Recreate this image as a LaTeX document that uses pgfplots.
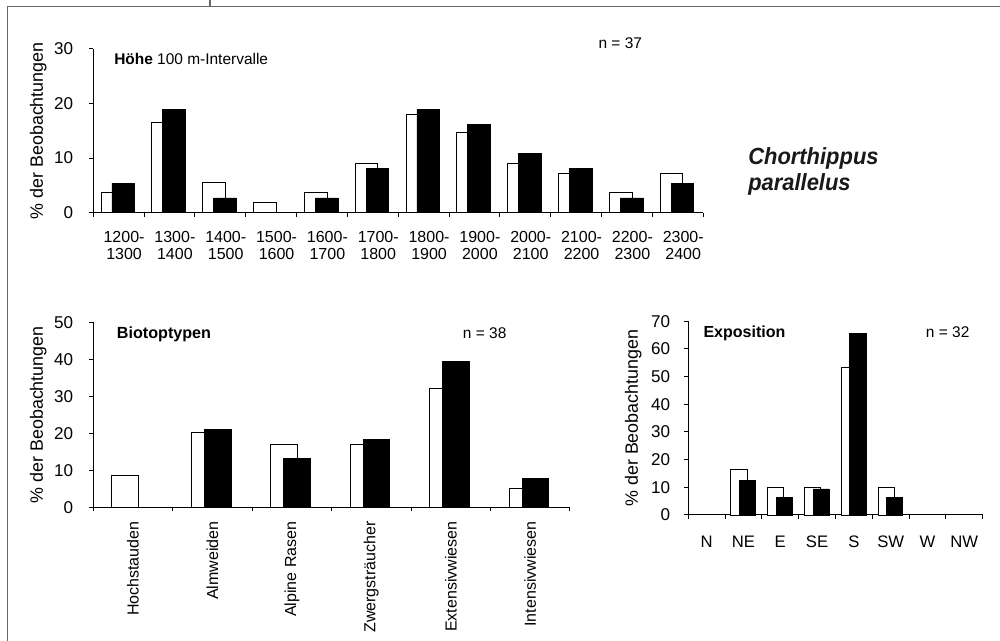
\documentclass[border=0pt]{standalone}
\usepackage{fontspec}
\setmainfont{Liberation Sans}
\usepackage{graphicx}
\usepackage{pgfplots}
\pgfplotsset{compat=1.18}
\definecolor{framegray}{RGB}{105,105,105}
\pgfplotsset{
  chartbase/.style={
    scale only axis,
    axis x line*=bottom, axis y line*=left,
    axis line style={-, line width=0.75pt, black},
    tick align=outside,
    major tick length=3pt, minor tick length=3pt,
    tick style={black, line width=0.75pt},
    major x tick style={draw=none},
    ymin=0, enlargelimits=false, clip=false,
    /pgf/number format/assume math mode=true,
    yticklabel style={anchor=east, inner sep=0pt, font=\fontsize{12.8}{14}\selectfont},
    yticklabel shift=12pt,
    every axis y label/.style={rotate=90, anchor=center, font=\fontsize{13.4}{15}\selectfont},
    ylabel={\% der Beobachtungen},
  },
  wbar/.style={ybar, fill=white, draw=black, line width=0.6pt},
  bbar/.style={ybar, fill=black, draw=black, line width=0.6pt},
}
\begin{document}
\begin{tikzpicture}[x=0.75pt,y=0.75pt]
\path[use as bounding box] (0,0) rectangle (1000,641);
% frame
\draw[framegray, line width=1pt] (7.7,0) -- (7.7,634.7) -- (1000,634.7);
\draw[framegray, line width=1pt] (210,634.7) -- (210,641);

% ---------- Hoehe ----------
\begin{axis}[chartbase,
  at={(69.975pt,321.225pt)}, anchor=south west,
  width=457.5pt, height=122.8pt,
  xmin=-0.5, xmax=11.5, ymax=30,
  ytick={0,10,20,30},
  xtick={0,...,11},
  minor xtick={-0.5,0.5,...,11.5},
  xticklabels={{1200-\\1300},{1300-\\1400},{1400-\\1500},{1500-\\1600},{1600-\\1700},{1700-\\1800},{1800-\\1900},{1900-\\2000},{2000-\\2100},{2100-\\2200},{2200-\\2300},{2300-\\2400}},
  xticklabel style={align=center, anchor=north, inner sep=0pt, xshift=4pt, font=\fontsize{12}{12.75}\selectfont},
  xticklabel shift=11pt,
  every axis y label/.append style={at={(axis description cs:-0.0902,0.5)}},
]
\addplot[wbar, bar width=0.445, bar shift=-0.125] coordinates {
(0,3.7) (1,16.5) (2,5.6) (3,1.9) (4,3.7) (5,9.0) (6,18.1) (7,14.7) (8,9.0) (9,7.2) (10,3.7) (11,7.2)};
\addplot[bbar, bar width=0.445, bar shift=0.09] coordinates {
(0,5.4) (1,18.9) (2,2.7) (4,2.7) (5,8.1) (6,18.9) (7,16.2) (8,10.8) (9,8.1) (10,2.7) (11,5.4)};
\end{axis}

% ---------- Biotoptypen ----------
\begin{axis}[chartbase,
  at={(69.975pt,100.275pt)}, anchor=south west,
  width=357.5pt, height=138.75pt,
  xmin=-0.5, xmax=5.5, ymax=50,
  ytick={0,10,20,30,40,50},
  xtick={0,...,5},
  minor xtick={-0.5,0.5,...,5.5},
  xticklabels={Hochstauden,Almweiden,Alpine Rasen,Zwergsträucher,Extensivwiesen,Intensivwiesen},
  xticklabel style={rotate=90, anchor=east, inner sep=0pt, font=\fontsize{12}{13}\selectfont},
  xticklabel shift=7.5pt,
  every axis y label/.append style={at={(axis description cs:-0.1154,0.5)}},
]
\addplot[wbar, bar width=0.336, bar shift=-0.1] coordinates {
(0,8.5) (1,20.3) (2,16.9) (3,16.9) (4,32.2) (5,5.1)};
\addplot[bbar, bar width=0.336, bar shift=0.065] coordinates {
(1,21.1) (2,13.2) (3,18.4) (4,39.5) (5,7.9)};
\end{axis}

% ---------- Exposition ----------
\begin{axis}[chartbase,
  at={(516.225pt,94.5pt)}, anchor=south west,
  width=220.8pt, height=145.3pt,
  xmin=-0.5, xmax=7.5, ymax=70,
  ytick={0,10,...,70},
  xtick={0,...,7},
  minor xtick={-0.5,0.5,...,7.5},
  xticklabels={N,NE,E,SE,S,SW,W,NW},
  xticklabel style={anchor=north, inner sep=0pt, font=\fontsize{12.5}{14}\selectfont},
  xticklabel shift=12.5pt,
  yticklabel shift=10.5pt,
  every axis y label/.append style={at={(axis description cs:-0.1868,0.5)}},
]
\addplot[wbar, bar width=0.44, bar shift=-0.125] coordinates {
(1,16.3) (2,10) (3,10) (4,53.2) (5,10)};
\addplot[bbar, bar width=0.44, bar shift=0.11] coordinates {
(1,12.5) (2,6.3) (3,9.4) (4,65.6) (5,6.3)};
\end{axis}

% ---------- texts ----------
\node[anchor=base west, inner sep=0pt, font=\fontsize{11.6}{14}\selectfont] at (114,576) {\textbf{Höhe} 100 m-Intervalle};
\node[anchor=base west, inner sep=0pt, font=\fontsize{11.6}{14}\selectfont] at (598.3,592) {n = 37};
\node[anchor=base west, inner sep=0pt, font=\fontsize{12.1}{14}\selectfont\bfseries] at (116.7,302.7) {Biotoptypen};
\node[anchor=base west, inner sep=0pt, font=\fontsize{11.6}{14}\selectfont] at (462.7,302.7) {n = 38};
\node[anchor=base west, inner sep=0pt, font=\fontsize{12}{14}\selectfont\bfseries] at (703.3,303.3) {Exposition};
\node[anchor=base west, inner sep=0pt, font=\fontsize{11.6}{14}\selectfont] at (925.7,303.3) {n = 32};
\node[anchor=base west, inner sep=0pt, text=black!90, font=\fontsize{17.5}{21}\selectfont\bfseries\itshape] at (748,476) {\scalebox{0.94}[1]{Chorthippus}};
\node[anchor=base west, inner sep=0pt, text=black!90, font=\fontsize{17.5}{21}\selectfont\bfseries\itshape] at (748,450) {\scalebox{0.94}[1]{parallelus}};
\end{tikzpicture}
\end{document}
